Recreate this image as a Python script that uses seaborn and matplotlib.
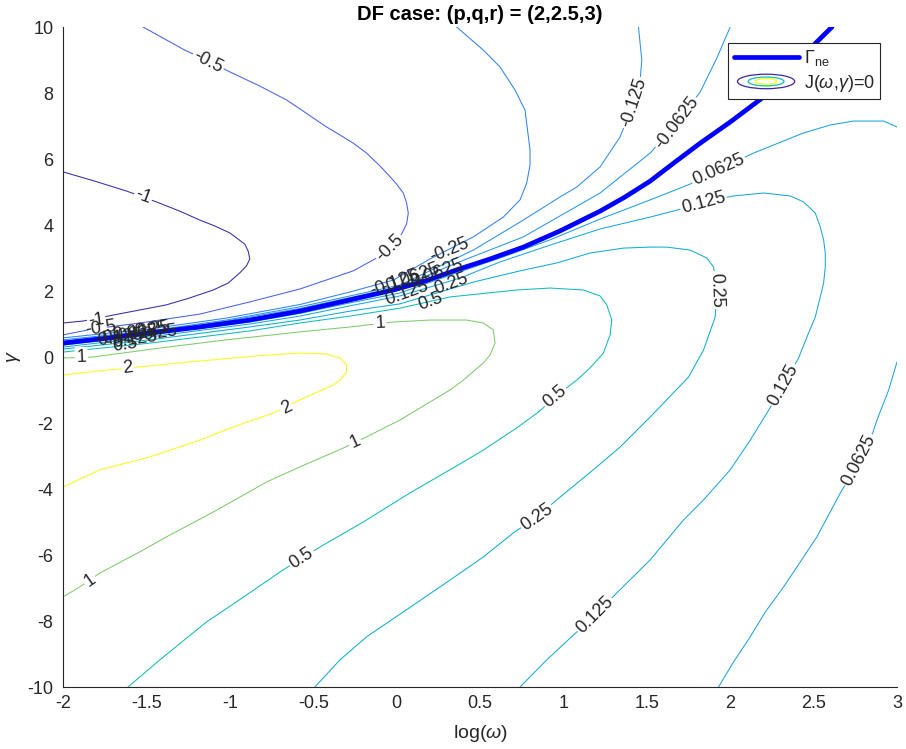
import numpy as np
import pandas as pd
import matplotlib
matplotlib.use("Agg")
import matplotlib.pyplot as plt
import seaborn as sns
from matplotlib.colors import LinearSegmentedColormap
from matplotlib.legend_handler import HandlerBase
from matplotlib.patches import Ellipse
from matplotlib.lines import Line2D

# ---------------- data ----------------
title_text = "DF case: (p,q,r) = (2,2.5,3)"
x_ticks = [-2, -1.5, -1, -0.5, 0, 0.5, 1, 1.5, 2, 2.5, 3]
x_tick_labels = ["-2", "-1.5", "-1", "-0.5", "0", "0.5", "1", "1.5", "2", "2.5", "3"]
y_ticks = [-10, -8, -6, -4, -2, 0, 2, 4, 6, 8, 10]
y_tick_labels = ["-10", "-8", "-6", "-4", "-2", "0", "2", "4", "6", "8", "10"]
contour_levels = [-1, -0.5, -0.25, -0.125, -0.0625, 0.0625, 0.125, 0.25, 0.5, 1, 2]

# Gamma_ne curve
gamma_x = [-2.00, -1.72, -1.48, -1.18, -0.88, -0.58, -0.28, -0.02, 0.17, 0.36, 0.56, 0.76, 0.98, 1.22,
           1.37, 1.52, 1.67, 1.82, 2.00, 2.20, 2.36, 2.50, 2.61]
gamma_y = [0.42, 0.58, 0.73, 0.91, 1.12, 1.39, 1.73, 2.03, 2.30, 2.64, 2.97, 3.33, 3.82, 4.42,
           4.85, 5.33, 5.91, 6.48, 7.12, 7.88, 8.64, 9.45, 10.00]

# contour lines J = level
c_m1_x = [-2.00, -1.88, -1.70, -1.38, -1.24, -1.10, -1.01, -0.94, -0.90, -0.88, -0.89, -0.91, -0.96, -1.00,
          -1.09, -1.18, -1.30, -1.44, -1.62, -1.81, -2.00]
c_m1_y = [1.03, 1.09, 1.27, 1.58, 1.79, 2.03, 2.24, 2.55, 2.76, 2.97, 3.21, 3.42, 3.61, 3.76,
          3.97, 4.15, 4.42, 4.70, 5.03, 5.33, 5.61]

c_m05_x = [-2.00, -1.82, -1.54, -1.18, -0.88, -0.58, -0.26, -0.13, -0.03, 0.03, 0.06, 0.07, 0.06, 0.04,
           0.00, -0.05, -0.10, -0.18, -0.26, -0.34, -0.42, -0.58, -0.66, -0.82, -1.00, -1.13, -1.27, -1.52]
c_m05_y = [0.67, 0.85, 1.03, 1.30, 1.67, 2.06, 2.61, 2.97, 3.36, 3.73, 4.03, 4.36, 4.67, 4.97,
           5.24, 5.52, 5.79, 6.18, 6.48, 6.73, 6.97, 7.52, 7.79, 8.21, 8.64, 8.97, 9.30, 10.00]

c_m025_x = [-2.00, -1.48, -1.02, -0.58, -0.28, -0.02, 0.20, 0.46, 0.64, 0.74, 0.78, 0.80, 0.80, 0.77,
            0.71, 0.62, 0.52, 0.36]
c_m025_y = [0.58, 0.85, 1.18, 1.59, 1.97, 2.33, 2.97, 3.64, 4.24, 4.76, 5.27, 5.82, 6.27, 7.48,
            8.09, 8.79, 9.30, 10.00]

c_m0125_x = [-2.00, -1.48, -1.02, -0.58, -0.28, 0.02, 0.46, 0.76, 0.98, 1.08, 1.22, 1.34, 1.42, 1.46, 1.47, 1.45]
c_m0125_y = [0.52, 0.79, 1.12, 1.52, 1.85, 2.18, 3.24, 4.15, 4.85, 5.15, 5.76, 6.67, 7.70, 8.39, 9.00, 10.00]

c_m00625_x = [-2.00, -1.48, -1.02, -0.58, -0.28, 0.02, 0.36, 0.76, 1.22, 1.52, 1.68, 1.82, 1.92, 2.00]
c_m00625_y = [0.48, 0.76, 1.09, 1.47, 1.80, 2.12, 2.85, 3.64, 4.97, 6.18, 7.09, 8.03, 9.06, 10.00]

c_p00625a_x = [-2.00, -1.48, -0.88, -0.58, -0.28, 0.02, 0.36, 0.62, 0.92, 1.22, 1.52, 1.76, 1.93, 2.14,
               2.44, 2.60, 2.74, 2.92, 3.00]
c_p00625a_y = [0.36, 0.67, 1.06, 1.32, 1.64, 1.94, 2.55, 3.00, 3.55, 4.18, 4.76, 5.24, 5.67, 6.18,
               6.79, 7.03, 7.15, 7.15, 6.97]

c_p00625b_x = [3.00, 2.95, 2.88, 2.83, 2.77, 2.67, 2.52, 2.42, 2.32, 2.21, 2.12, 2.02, 1.93]
c_p00625b_y = [-0.15, -1.00, -1.91, -2.67, -3.27, -4.03, -5.45, -6.21, -6.97, -7.73, -8.48, -9.24, -10.00]

c_p0125_x = [-2.00, -1.48, -0.88, -0.58, -0.28, 0.02, 0.38, 0.62, 0.92, 1.22, 1.52, 1.68, 1.84, 2.02,
             2.20, 2.36, 2.44, 2.51, 2.54, 2.56, 2.57, 2.57, 2.56, 2.54, 2.51, 2.47, 2.41,
             2.32, 2.22, 2.12, 2.00, 1.84, 1.72, 1.52, 1.32, 1.19, 1.04, 0.90, 0.74]
c_p0125_y = [0.30, 0.61, 1.00, 1.24, 1.55, 1.85, 2.39, 2.88, 3.39, 3.88, 4.24, 4.45, 4.70, 4.88,
             4.97, 4.88, 4.70, 4.36, 3.94, 3.55, 3.15, 2.73, 2.24, 1.82, 1.21, 0.73, -0.03,
             -0.85, -1.70, -2.52, -3.42, -4.33, -4.94, -6.15, -7.15, -7.82, -8.52, -9.18, -10.00]

c_p025_x = [-2.00, -1.48, -0.88, -0.58, -0.28, 0.02, 0.46, 0.74, 0.96, 1.16, 1.36, 1.52, 1.62, 1.76, 1.86,
            1.90, 1.92, 1.91, 1.84, 1.75, 1.52, 1.34, 1.20, 0.96, 0.84, 0.70, 0.52, 0.32, 0.12, -0.18, -0.34, -0.49]
c_p025_y = [0.24, 0.52, 0.91, 1.12, 1.39, 1.61, 2.27, 2.61, 2.85, 3.15, 3.30, 3.33, 3.33, 3.24, 3.00,
            2.73, 2.03, 1.21, 0.21, -0.61, -1.82, -2.73, -3.33, -4.33, -4.85, -5.33, -6.06, -6.76, -7.45, -8.48, -9.18, -10.00]

c_p05_x = [-2.00, -1.48, -0.88, -0.58, -0.28, 0.02, 0.32, 0.72, 0.92, 1.12, 1.22, 1.26, 1.29, 1.28, 1.24, 1.16,
           1.08, 0.95, 0.85, 0.72, 0.52, 0.40, 0.08, -0.20, -0.46, -0.68, -0.96, -1.14, -1.42, -1.61]
c_p05_y = [0.15, 0.42, 0.79, 1.03, 1.24, 1.48, 1.82, 2.03, 2.09, 2.03, 1.85, 1.58, 1.12, 0.67, 0.12, -0.33,
           -0.70, -1.21, -1.67, -2.15, -2.82, -3.18, -4.12, -5.00, -5.76, -6.45, -7.42, -8.03, -9.18, -10.00]

c_p1_x = [-2.00, -1.82, -1.42, -1.02, -0.58, -0.28, -0.02, 0.20, 0.42, 0.52, 0.58, 0.59, 0.56, 0.52, 0.40,
          0.32, 0.02, -0.18, -0.32, -0.58, -0.78, -1.10, -1.38, -1.52, -1.78, -1.90, -2.00]
c_p1_y = [-0.03, 0.00, 0.27, 0.52, 0.76, 0.91, 1.06, 1.12, 1.12, 1.03, 0.82, 0.42, 0.06, -0.18, -0.70,
          -1.00, -1.91, -2.42, -2.76, -3.33, -3.79, -4.70, -5.45, -5.85, -6.55, -6.97, -7.27]

c_p2_x = [-2.00, -1.78, -1.54, -1.24, -0.85, -0.58, -0.42, -0.34, -0.30, -0.30, -0.34, -0.38, -0.58, -0.74,
          -0.98, -1.18, -1.48, -1.78, -2.00]
c_p2_y = [-0.55, -0.42, -0.30, -0.15, 0.03, 0.12, 0.09, -0.03, -0.24, -0.45, -0.70, -0.85, -1.30, -1.70,
          -2.12, -2.52, -3.03, -3.42, -3.94]

segments = [
    (-1, c_m1_x, c_m1_y), (-0.5, c_m05_x, c_m05_y), (-0.25, c_m025_x, c_m025_y),
    (-0.125, c_m0125_x, c_m0125_y), (-0.0625, c_m00625_x, c_m00625_y),
    (0.0625, c_p00625a_x, c_p00625a_y), (0.0625, c_p00625b_x, c_p00625b_y),
    (0.125, c_p0125_x, c_p0125_y), (0.25, c_p025_x, c_p025_y), (0.5, c_p05_x, c_p05_y),
    (1, c_p1_x, c_p1_y), (2, c_p2_x, c_p2_y),
]

# inline labels (isolated ones break the line)
lab_text = ["-0.5", "-1", "-1", "-0.5", "-0.125", "-0.0625", "0.0625", "0.125", "0.25", "0.125",
            "0.0625", "0.125", "0.25", "0.5", "0.5", "1", "1", "2", "2", "1", "1"]
lab_x = [-1.13, -1.52, -1.80, -0.04, 1.42, 1.68, 1.93, 1.84, 1.92, 2.32,
         2.77, 1.19, 0.84, 0.95, -0.57, -0.25, -1.84, -0.66, -1.61, -1.89, -0.10]
lab_y = [8.94, 4.85, 1.12, 3.30, 7.70, 7.09, 5.67, 4.67, 2.03, -0.85,
         -3.12, -7.82, -4.85, -1.21, -6.09, -2.58, -6.76, -1.55, -0.33, 0.00, 1.03]
lab_rot = [-27, -20, 8, 45, 72, 53, 24, 15, -88, 61,
           63, 45, 35, 40, 33, 25, 35, 26, 6, 2, 3]

# crowded labels near the converging lines
crowd_text = ["-0.5", "-0.25", "-0.125", "-0.0625", "0.0625", "0.25", "0.125", "0.5",
              "-0.25", "-0.125", "-0.0625", "0.0625", "0.125", "0.25", "0.5"]
crowd_x = [-1.77, -1.48, -1.67, -1.61, -1.54, -1.42, -1.57, -1.63,
           0.32, -0.01, 0.08, 0.24, 0.06, 0.33, 0.20]
crowd_y = [0.88, 0.82, 0.58, 0.67, 0.76, 0.73, 0.52, 0.36,
           3.24, 2.24, 2.39, 2.55, 1.94, 2.21, 1.67]
crowd_rot = [8, 8, 8, 8, 8, 8, 8, 8, 22, 20, 20, 20, 20, 20, 20]

# ---------------- styling ----------------
parula_anchor = [(0.2422, 0.1504, 0.6603), (0.2691, 0.2297, 0.8589), (0.2810, 0.3228, 0.9579),
                 (0.2621, 0.4144, 0.9936), (0.1896, 0.5035, 0.9851), (0.1540, 0.5902, 0.9218),
                 (0.0980, 0.6557, 0.8725), (0.0282, 0.6972, 0.8036), (0.0641, 0.7356, 0.7237),
                 (0.1913, 0.7701, 0.6312), (0.3633, 0.7924, 0.5178), (0.5617, 0.7990, 0.3788),
                 (0.7752, 0.7724, 0.2496), (0.9410, 0.7273, 0.2124), (0.9963, 0.7867, 0.1822),
                 (0.9614, 0.8946, 0.1440), (0.9769, 0.9839, 0.0805)]
parula = LinearSegmentedColormap.from_list("parula", parula_anchor)
vmin, vmax = min(contour_levels), max(contour_levels)


def level_color(v):
    return parula((v - vmin) / (vmax - vmin))


sns.set_theme(style="white")
plt.rcParams['font.family'] = ['Liberation Sans', 'DejaVu Sans']
plt.rcParams['mathtext.fontset'] = 'custom'
plt.rcParams['mathtext.rm'] = 'Liberation Sans'
plt.rcParams['mathtext.it'] = 'Liberation Sans:italic'
plt.rcParams['mathtext.bf'] = 'Liberation Sans:bold'
plt.rcParams['axes.unicode_minus'] = False

dark = '#262626'
fig = plt.figure(figsize=(9.06, 7.49), dpi=100)
ax = fig.add_axes([63 / 906, 62 / 749, 834 / 906, 660 / 749])

rows = []
for i, (lev, xs, ys) in enumerate(segments):
    for xv, yv in zip(xs, ys):
        rows.append({"seg": i, "level": lev, "x": xv, "y": yv})
df = pd.DataFrame(rows)

for i, sub in df.groupby("seg", sort=False):
    lev = sub["level"].iloc[0]
    sns.lineplot(data=sub, x="x", y="y", sort=False, estimator=None, ax=ax,
                 color=level_color(lev), linewidth=0.75, zorder=2)

for t, xv, yv, r in zip(lab_text, lab_x, lab_y, lab_rot):
    ax.text(xv, yv, t, rotation=r, rotation_mode='anchor', ha='center', va='center',
            fontsize=13, color=dark, zorder=3,
            bbox=dict(boxstyle='square,pad=0.08', fc='white', ec='none'))

gdf = pd.DataFrame({"x": gamma_x, "y": gamma_y})
sns.lineplot(data=gdf, x="x", y="y", sort=False, estimator=None, ax=ax,
             color='#0000ff', linewidth=3.4, zorder=4)

for t, xv, yv, r in zip(crowd_text, crowd_x, crowd_y, crowd_rot):
    ax.text(xv, yv, t, rotation=r, rotation_mode='anchor', ha='center', va='center',
            fontsize=13, color=dark, zorder=5)

ax.set_xlim(-2, 3)
ax.set_ylim(-10, 10)
ax.set_xticks(x_ticks)
ax.set_xticklabels(x_tick_labels)
ax.set_yticks(y_ticks)
ax.set_yticklabels(y_tick_labels)
ax.tick_params(axis='both', direction='in', length=6, width=0.8, colors=dark, labelsize=13)
ax.tick_params(axis='x', pad=6)
ax.tick_params(axis='y', pad=7)
for s in ['top', 'right']:
    ax.spines[s].set_visible(False)
for s in ['left', 'bottom']:
    ax.spines[s].set_color(dark)
    ax.spines[s].set_linewidth(0.8)

ax.set_xlabel(r'log($\omega$)', fontsize=14, color=dark)
ax.xaxis.set_label_coords(0.5, -0.054)
ax.set_ylabel(r'$\gamma$', fontsize=14, color=dark)
ax.yaxis.set_label_coords(-0.048, 0.5)
ax.set_title(title_text, fontsize=14.5, fontweight='bold', color='black', pad=5)


class ContourIconHandler(HandlerBase):
    def create_artists(self, legend, orig_handle, xdescent, ydescent, width, height, fontsize, trans):
        cx = width / 2 - xdescent
        cy = height / 2 - ydescent
        arts = []
        for fw, fh, lev in [(0.88, 1.15, -1), (0.55, 0.7, 0.5), (0.33, 0.45, 2)]:
            e = Ellipse((cx, cy), width * fw, height * fh, fill=False,
                        edgecolor=level_color(lev), linewidth=0.9, transform=trans)
            arts.append(e)
        return arts


class ContourIcon:
    pass


h1 = Line2D([], [], color='#0000ff', linewidth=3.4)
h2 = ContourIcon()
leg = ax.legend([h1, h2], [r'$\Gamma_{\mathrm{ne}}$', r'J($\omega$,$\gamma$)=0'],
                handler_map={ContourIcon: ContourIconHandler()},
                loc='upper right', bbox_to_anchor=(0.98, 0.976), borderaxespad=0,
                fontsize=13, frameon=True, fancybox=False, framealpha=1,
                edgecolor=dark, borderpad=0.3, handlelength=3.6, handletextpad=0.3,
                labelspacing=0.25)
leg.get_frame().set_linewidth(0.8)
leg.set_zorder(10)

fig.savefig("out.png", dpi=100)
